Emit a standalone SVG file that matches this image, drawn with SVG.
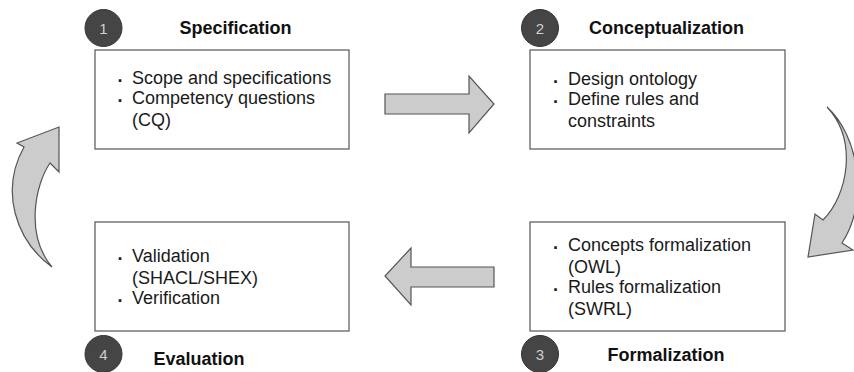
<svg xmlns="http://www.w3.org/2000/svg" width="854" height="372" viewBox="0 0 854 372">
<style>
.box{fill:#fff;stroke:#555;stroke-width:1.2}
.num{fill:#454545;stroke:#333;stroke-width:1}
.numt{font-family:"Liberation Sans",Arial,sans-serif;font-size:15px;fill:#d0d0d0;text-anchor:middle}
.title{font-family:"Liberation Sans",Arial,sans-serif;font-size:18px;font-weight:bold;fill:#111;text-anchor:middle}
.body{font-family:"Liberation Sans",Arial,sans-serif;font-size:18px;fill:#1a1a1a}
.bul{font-family:"Liberation Sans",Arial,sans-serif;font-size:18px;font-weight:bold;fill:#1a1a1a}
.arr{fill:#cccccc;stroke:#555;stroke-width:1.2;stroke-linejoin:miter}
</style>
<rect width="854" height="372" fill="#fff"/>
<g id="connectors">
<path class="arr" d="M385,94 H469 V76 L494,104 L469,133 V114 H385 Z"/>
<path class="arr" d="M494,267 H411 V248 L385,276 L411,305 V287 H494 Z"/>
<path class="arr" d="M827,107 C858,135 870,200 842,243 L853,250 L808,257 L815,214 L823,220 C848,195 858,140 827,107 Z"/>
<path class="arr" d="M52,267 C15,240 0,190 24,147 L17,143 L59,127 L59,172 L50,163 C35,185 25,235 52,267 Z"/>
</g>
<g id="node1">
<rect class="box" x="95" y="50" width="254" height="99"/>
<circle class="num" cx="103.5" cy="28" r="18.5"/>
<text class="numt" x="103.5" y="33.5">1</text>
<text class="title" x="235.5" y="34">Specification</text>
<text class="bul" x="117.5" y="82">.</text>
<text class="body" x="132" y="84">Scope and specifications</text>
<text class="bul" x="117.5" y="102">.</text>
<text class="body" x="132" y="104">Competency questions</text>
<text class="body" x="132" y="126">(CQ)</text>
</g>
<g id="node2">
<rect class="box" x="530" y="50" width="255" height="99"/>
<circle class="num" cx="540" cy="28" r="18.5"/>
<text class="numt" x="540" y="33.5">2</text>
<text class="title" x="666.5" y="34">Conceptualization</text>
<text class="bul" x="553" y="83">.</text>
<text class="body" x="568" y="85">Design ontology</text>
<text class="bul" x="553" y="103">.</text>
<text class="body" x="568" y="105">Define rules and</text>
<text class="body" x="568" y="127">constraints</text>
</g>
<g id="node3">
<rect class="box" x="530" y="222" width="255" height="109"/>
<circle class="num" cx="540" cy="354" r="18.5"/>
<text class="numt" x="540" y="359.5">3</text>
<text class="title" x="666" y="361">Formalization</text>
<text class="bul" x="553" y="249">.</text>
<text class="body" x="568" y="251">Concepts formalization</text>
<text class="body" x="568" y="273">(OWL)</text>
<text class="bul" x="553" y="291">.</text>
<text class="body" x="568" y="293">Rules formalization</text>
<text class="body" x="568" y="315">(SWRL)</text>
</g>
<g id="node4">
<rect class="box" x="95" y="222" width="254" height="109"/>
<circle class="num" cx="103.5" cy="354" r="18.5"/>
<text class="numt" x="103.5" y="359.5">4</text>
<text class="title" x="199" y="365">Evaluation</text>
<text class="bul" x="117.5" y="260">.</text>
<text class="body" x="132" y="262">Validation</text>
<text class="body" x="132" y="284">(SHACL/SHEX)</text>
<text class="bul" x="117.5" y="302">.</text>
<text class="body" x="132" y="304">Verification</text>
</g>
</svg>
